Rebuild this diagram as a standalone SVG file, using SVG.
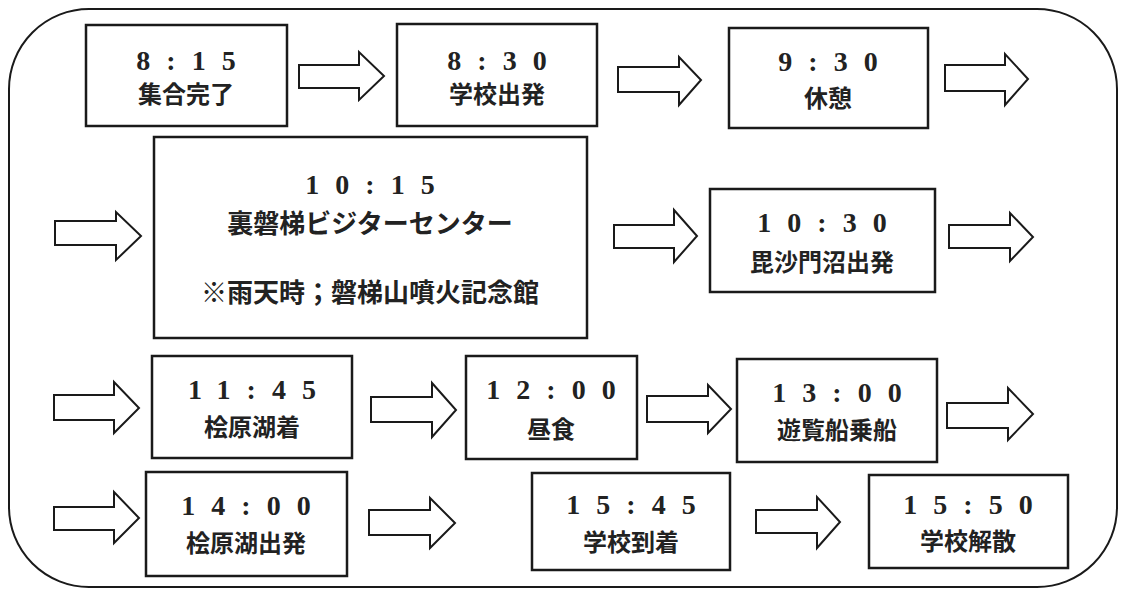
<svg xmlns="http://www.w3.org/2000/svg" width="1124" height="591" viewBox="0 0 1124 591">
<style>
.box{fill:#fff;stroke:#1a1a1a;stroke-width:2.5}
.arr{fill:#fff;stroke:#1a1a1a;stroke-width:2;stroke-linejoin:miter}
.t{font-family:"Liberation Serif",serif;font-weight:bold;font-size:28px;letter-spacing:16px;fill:#222;text-anchor:middle}
.j{font-family:"Noto Sans CJK JP",sans-serif;font-weight:bold;font-size:24px;fill:#222;text-anchor:middle}
</style>
<rect width="1124" height="591" fill="#fff"/>
<rect x="9" y="9" width="1108" height="578" rx="80" ry="80" fill="none" stroke="#1a1a1a" stroke-width="2"/>
<g id="connectors">
<polygon class="arr" points="299,65 359,65 359,52 384,76 359,100 359,88 299,88"/>
<polygon class="arr" points="618,67 679,67 679,57 701,80 679,105 679,92 618,92"/>
<polygon class="arr" points="945,65 1005,65 1005,54 1028,79 1005,105 1005,91 945,91"/>
<polygon class="arr" points="55,221 116,221 116,212 141,236 116,260 116,245 55,245"/>
<polygon class="arr" points="614,225 674,225 674,210 697,236 674,262 674,248 614,248"/>
<polygon class="arr" points="949,225 1010,225 1010,213 1033,237 1010,261 1010,248 949,248"/>
<polygon class="arr" points="54,395 114,395 114,382 139,408 114,433 114,420 54,420"/>
<polygon class="arr" points="371,397 432,397 432,383 456,410 432,437 432,422 371,422"/>
<polygon class="arr" points="647,396 708,396 708,385 731,409 708,433 708,422 647,422"/>
<polygon class="arr" points="947,403 1008,403 1008,388 1033,414 1008,440 1008,428 947,428"/>
<polygon class="arr" points="54,507 114,507 114,492 139,518 114,543 114,530 54,530"/>
<polygon class="arr" points="369,510 430,510 430,498 455,523 430,548 430,535 369,535"/>
<polygon class="arr" points="756,510 817,510 817,497 840,522 817,548 817,533 756,533"/>
</g>
<g id="n1"><rect class="box" x="86" y="25" width="201" height="101"/><text class="t" x="194" y="70">8:15</text><text class="j" x="186" y="103">集合完了</text></g>
<g id="n2"><rect class="box" x="397" y="24" width="200" height="102"/><text class="t" x="505" y="70">8:30</text><text class="j" x="497" y="103">学校出発</text></g>
<g id="n3"><rect class="box" x="729" y="28" width="199" height="100"/><text class="t" x="836" y="71">9:30</text><text class="j" x="828" y="107">休憩</text></g>
<g id="n4"><rect class="box" x="154" y="137" width="433" height="201"/><text class="t" x="378" y="194">10:15</text><text class="j" x="370" y="233" style="font-size:26px">裏磐梯ビジターセンター</text><text class="j" x="370" y="302" style="font-size:26px">※雨天時；磐梯山噴火記念館</text></g>
<g id="n5"><rect class="box" x="710" y="189" width="225" height="103"/><text class="t" x="830" y="232">10:30</text><text class="j" x="822" y="271">毘沙門沼出発</text></g>
<g id="n6"><rect class="box" x="152" y="356" width="200" height="102"/><text class="t" x="260" y="399">11:45</text><text class="j" x="252" y="436">桧原湖着</text></g>
<g id="n7"><rect class="box" x="466" y="356" width="171" height="103"/><text class="t" x="559" y="399">12:00</text><text class="j" x="551" y="438">昼食</text></g>
<g id="n8"><rect class="box" x="737" y="359" width="200" height="103"/><text class="t" x="845" y="402">13:00</text><text class="j" x="837" y="439">遊覧船乗船</text></g>
<g id="n9"><rect class="box" x="146" y="472" width="201" height="104"/><text class="t" x="254" y="515">14:00</text><text class="j" x="246" y="552">桧原湖出発</text></g>
<g id="n10"><rect class="box" x="532" y="473" width="198" height="97"/><text class="t" x="639" y="514">15:45</text><text class="j" x="631" y="551">学校到着</text></g>
<g id="n11"><rect class="box" x="869" y="475" width="199" height="93"/><text class="t" x="976" y="514">15:50</text><text class="j" x="968" y="550">学校解散</text></g>
</svg>
